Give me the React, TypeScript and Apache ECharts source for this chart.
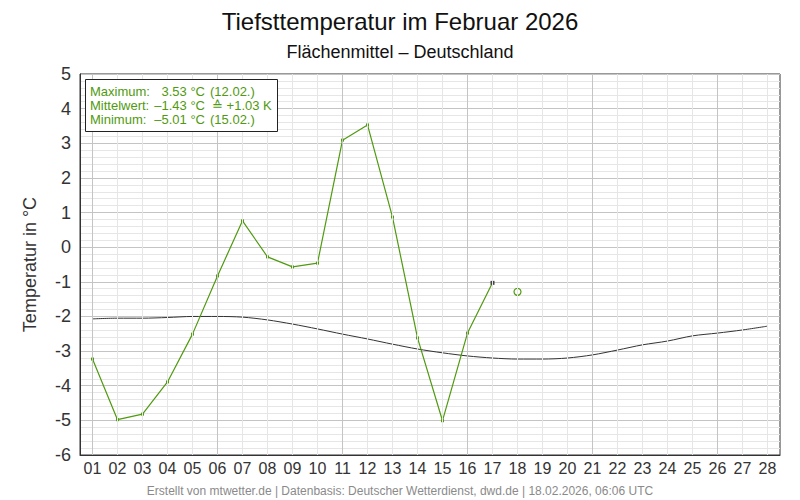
import React, { useEffect, useRef } from "react";
import * as echarts from "echarts";

const days = ["01","02","03","04","05","06","07","08","09","10","11","12","13","14","15","16","17","18","19","20","21","22","23","24","25","26","27","28"];
const tmin2026: (number | null)[] = [-3.23,-4.98,-4.82,-3.89,-2.51,-0.83,0.76,-0.28,-0.57,-0.46,3.09,3.53,0.87,-2.62,-5.01,-2.48,-1.03];
const forecast: (number | null)[] = [null,null,null,null,null,null,null,null,null,null,null,null,null,null,null,null,null,-1.29];
const climatology: number[] = [-2.07,-2.05,-2.05,-2.03,-2.0,-2.0,-2.02,-2.1,-2.22,-2.36,-2.51,-2.65,-2.8,-2.94,-3.05,-3.14,-3.2,-3.23,-3.23,-3.2,-3.11,-2.97,-2.82,-2.71,-2.56,-2.48,-2.39,-2.28];
const majorDays = ["01","06","11","16","21","26"];
const statLabels = ["Maximum:", "Mittelwert:", "Minimum:"];
const statValues = ["3.53 °C", "–1.43 °C", "–5.01 °C"];
const statExtras = ["(12.02.)", "≙ +1.03 K", "(15.02.)"];

const FONT = "'Liberation Sans', Arial, sans-serif";
const GREEN = "#4f9a0e";

export default function App() {
  const ref = useRef<HTMLDivElement>(null);
  useEffect(() => {
    if (!ref.current) return;
    const chart = echarts.init(ref.current, null, { renderer: "svg" });
    const vLines = days.map((d) => ({
      xAxis: d,
      lineStyle: { color: majorDays.includes(d) ? "#c4c4c4" : "#e6e6e6", width: 1, type: "solid" },
    }));
    const statGraphics: any[] = [];
    statLabels.forEach((l, i) => {
      const y = 91 + i * 14;
      statGraphics.push({ type: "text", x: 90, y, style: { text: l, fill: GREEN, font: `13px ${FONT}`, textVerticalAlign: "middle", textAlign: "left" } });
      statGraphics.push({ type: "text", x: 205, y, style: { text: statValues[i], fill: GREEN, font: `13px ${FONT}`, textVerticalAlign: "middle", textAlign: "right" } });
      statGraphics.push({ type: "text", x: i === 1 ? 212 : 210, y, style: { text: statExtras[i], fill: GREEN, font: `13px ${FONT}`, textVerticalAlign: "middle", textAlign: "left" } });
    });
    chart.setOption({
      animation: false,
      backgroundColor: "#ffffff",
      textStyle: { fontFamily: FONT },
      title: [
        { text: "Tiefsttemperatur im Februar 2026", left: "center", top: 4, textStyle: { fontSize: 24, fontWeight: "normal", color: "#111", fontFamily: FONT } },
        { text: "Flächenmittel – Deutschland", left: "center", top: 38, textStyle: { fontSize: 18, fontWeight: "normal", color: "#111", fontFamily: FONT } },
        { text: "Erstellt von mtwetter.de | Datenbasis: Deutscher Wetterdienst, dwd.de | 18.02.2026, 06:06 UTC", left: "center", top: 480, textStyle: { fontSize: 12, fontWeight: "normal", color: "#8a8a8a", fontFamily: FONT } },
      ],
      grid: { left: 80, right: 20, top: 74, bottom: 45, show: true, borderColor: "#333", borderWidth: 1, backgroundColor: "transparent" },
      xAxis: {
        type: "category",
        data: days,
        boundaryGap: true,
        axisLine: { show: true, onZero: false, lineStyle: { color: "#333" } },
        axisTick: { show: false },
        axisLabel: { fontSize: 16, color: "#333", margin: 5, fontFamily: FONT },
        splitLine: { show: false },
      },
      yAxis: {
        type: "value",
        min: -6,
        max: 5,
        interval: 1,
        name: "Temperatur in °C",
        nameLocation: "middle",
        nameGap: 41,
        nameTextStyle: { fontSize: 18, color: "#333", fontFamily: FONT },
        axisLine: { show: true, lineStyle: { color: "#333" } },
        axisTick: { show: false },
        axisLabel: { fontSize: 18, color: "#333", margin: 9, fontFamily: FONT },
        splitLine: { show: true, lineStyle: { color: "#c4c4c4", width: 1 } },
        minorTick: { show: false, splitNumber: 5 },
        minorSplitLine: { show: true, lineStyle: { color: "#e6e6e6", width: 1 } },
      },
      series: [
        {
          type: "line",
          data: [],
          z: 1,
          silent: true,
          markLine: { silent: true, symbol: ["none", "none"], label: { show: false }, data: vLines, animation: false },
        },
        {
          type: "line",
          data: climatology,
          smooth: 0.3,
          symbol: "none",
          lineStyle: { color: "#333", width: 1 },
          z: 3,
        },
        {
          type: "line",
          data: tmin2026.map((v, i) => (i === 16 ? { value: v, itemStyle: { color: "#444" }, symbolSize: 4 } : v)),
          symbol: "rect",
          symbolSize: 3,
          showSymbol: true,
          showAllSymbol: true,
          itemStyle: { color: GREEN, borderWidth: 0 },
          lineStyle: { color: GREEN, width: 1.2 },
          z: 4,
        },
        {
          type: "line",
          data: forecast,
          symbol: "circle",
          symbolSize: 7,
          showSymbol: true,
          itemStyle: { color: "#ffffff", borderColor: GREEN, borderWidth: 1.2 },
          lineStyle: { width: 0 },
          z: 4,
        },
      ],
      graphic: [
        { type: "rect", shape: { x: 85.5, y: 79.5, width: 192, height: 52 }, style: { fill: "#ffffff", stroke: "#222", lineWidth: 1 }, z: 10 },
        ...statGraphics.map((g) => ({ ...g, z: 11 })),
      ],
    });
    return () => chart.dispose();
  }, []);
  return <div ref={ref} style={{ width: 800, height: 500, position: "absolute", left: 0, top: 0 }} />;
}
